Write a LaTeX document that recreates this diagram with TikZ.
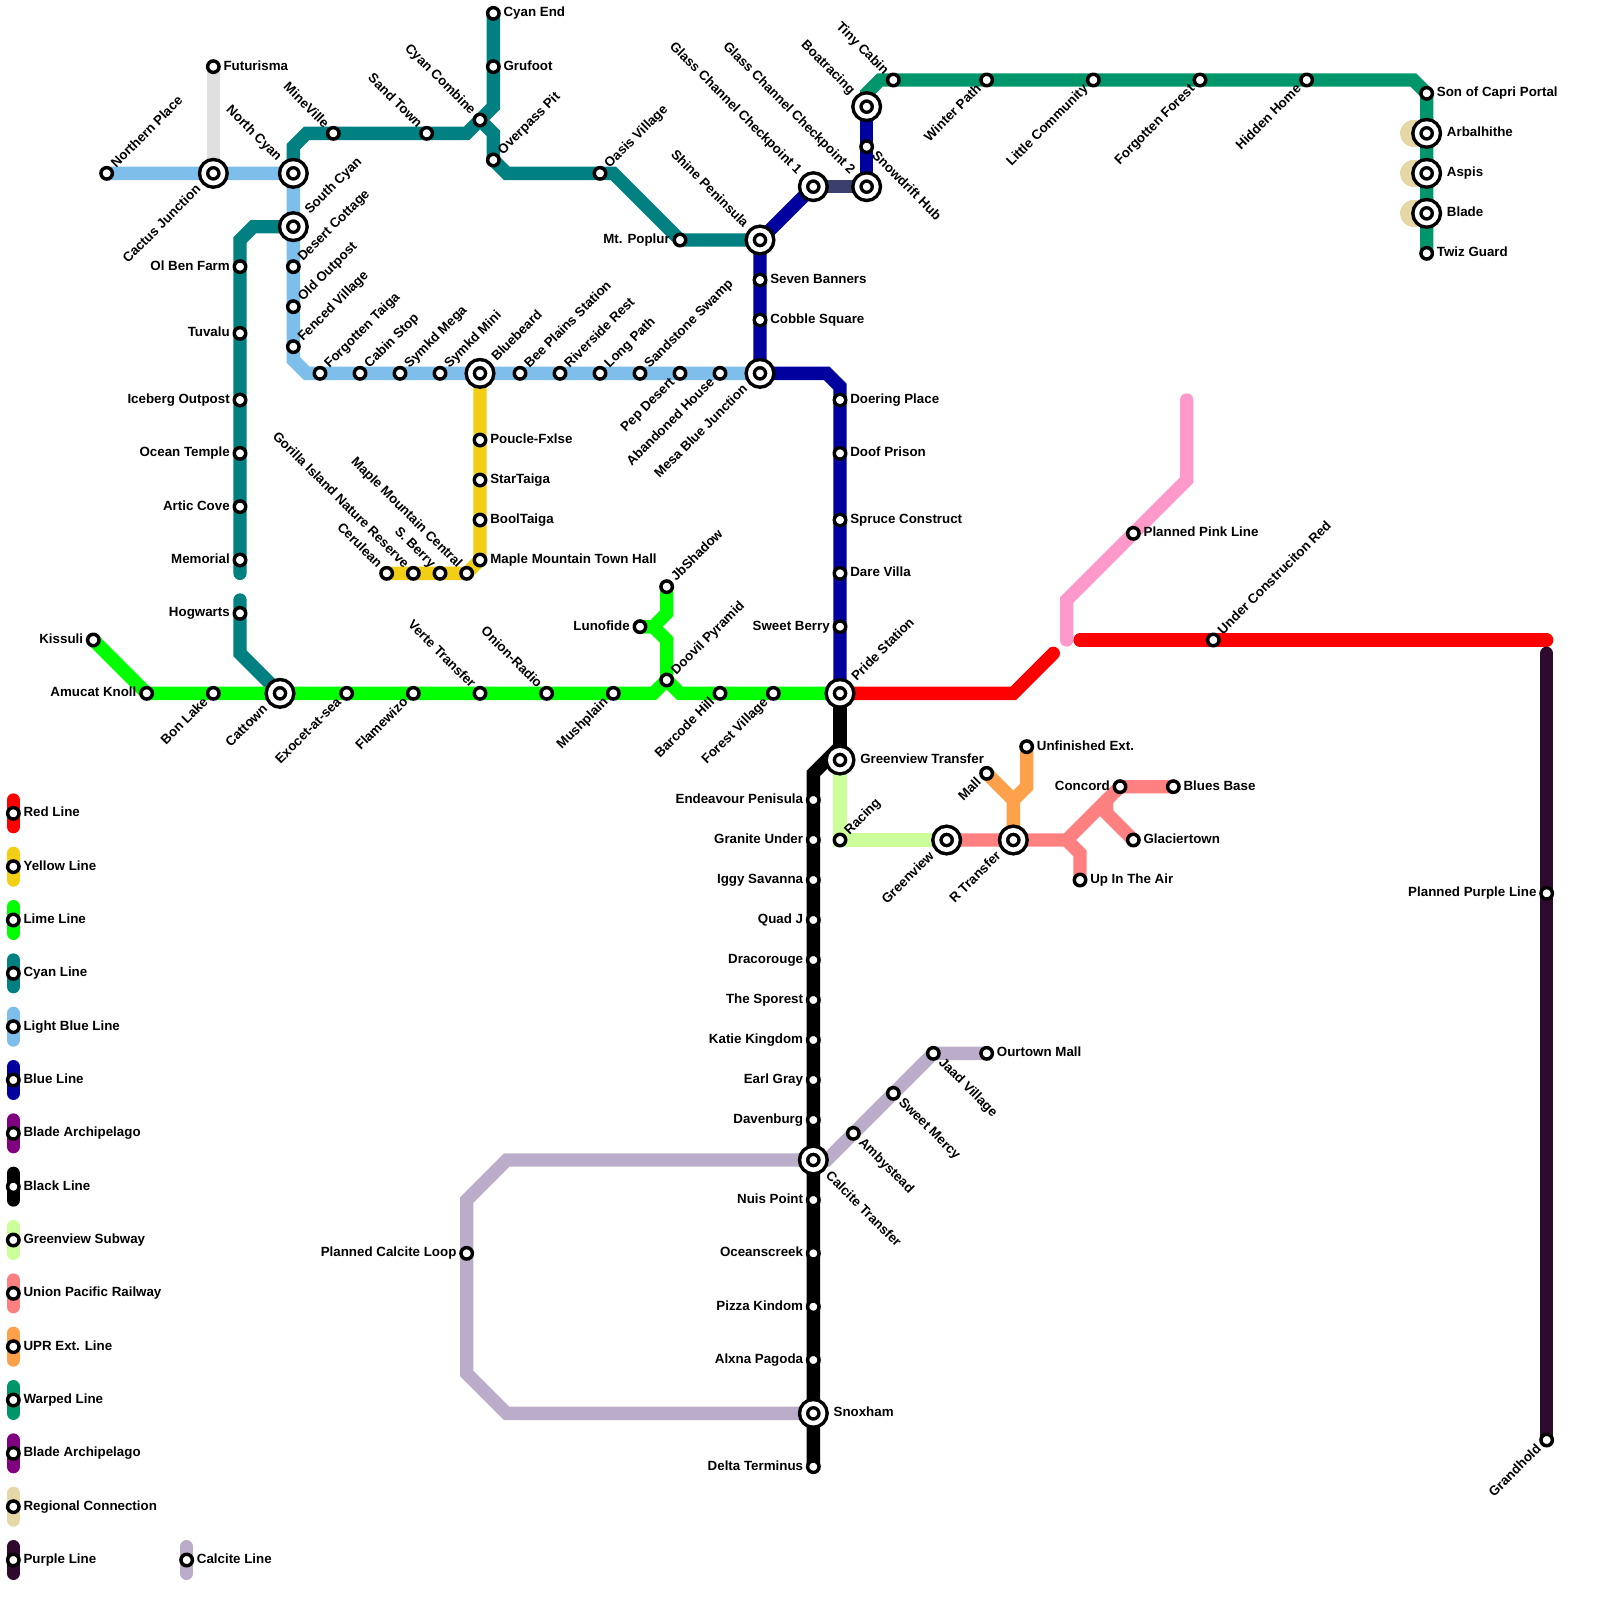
\documentclass[tikz,border=0pt]{standalone}
\usepackage{fontspec}
\setmainfont{Liberation Sans}
\usetikzlibrary{backgrounds}
\definecolor{redline}{HTML}{FF0000}
\definecolor{yellowline}{HTML}{F2CF14}
\definecolor{limeline}{HTML}{00FF00}
\definecolor{cyanline}{HTML}{008080}
\definecolor{lightblueline}{HTML}{7DBFEA}
\definecolor{blueline}{HTML}{00009F}
\definecolor{bladeline}{HTML}{800080}
\definecolor{subwayline}{HTML}{CCFF99}
\definecolor{unionline}{HTML}{FF8080}
\definecolor{extline}{HTML}{FFA04A}
\definecolor{warpedline}{HTML}{00966C}
\definecolor{regionline}{HTML}{E6D8A6}
\definecolor{purpleline}{HTML}{2D0A2E}
\definecolor{calciteline}{HTML}{BBADC9}
\definecolor{glassline}{HTML}{3A3F6E}
\definecolor{futureline}{HTML}{E0E0E0}
\definecolor{pinkline}{HTML}{FF99CC}
\tikzset{
  lbl/.style={font=\bfseries\fontsize{10}{11}\selectfont,inner sep=1pt,text height=7.2pt,text depth=2pt},
  stn/.style={circle,draw=black,fill=white,line width=2.6pt,inner sep=0pt,outer sep=2.2pt,minimum size=8.6pt},
  xfer/.style={circle,draw=black,fill=white,double=white,double distance=3.4pt,line width=2.6pt,inner sep=0pt,outer sep=6.7pt,minimum size=14.6pt},
  rr/.style={label={[lbl,anchor=west]0:#1}},
  ll/.style={label={[lbl,anchor=east]180:#1}},
  tr/.style={label={[lbl,rotate=45,anchor=west]45:#1}},
  tl/.style={label={[lbl,rotate=-45,anchor=east]135:#1}},
  bl/.style={label={[lbl,rotate=45,anchor=east]225:#1}},
  br/.style={label={[lbl,rotate=-45,anchor=west]-45:#1}},
  metro/.style={draw=#1,line width=10pt,line cap=round,line join=miter},
}
\begin{document}
\begin{tikzpicture}[x=10pt,y=-10pt]
\useasboundingbox (0,0) rectangle (120,120);
% light blue
\node[stn,tr=Northern Place] (northern) at (8,13) {};
\node[stn,rr=Futurisma] (futurisma) at (16,5) {};
\node[xfer,bl=Cactus Junction] (cactus) at (16,13) {};
\node[xfer,tl=North Cyan] (ncyan) at (22,13) {};
\node[xfer,tr=South Cyan] (scyan) at (22,17) {};
\node[stn,tr=Desert Cottage] (desert) at (22,20) {};
\node[stn,tr=Old Outpost] (outpost) at (22,23) {};
\node[stn,tr=Fenced Village] (fenced) at (22,26) {};
\node[stn,tr=Forgotten Taiga] (taiga) at (24,28) {};
\node[stn,tr=Cabin Stop] (cabin) at (27,28) {};
\node[stn,tr=Symkd Mega] (smega) at (30,28) {};
\node[stn,tr=Symkd Mini] (smini) at (33,28) {};
\node[xfer,tr=Bluebeard] (bluebeard) at (36,28) {};
\node[stn,tr=Bee Plains Station] (bee) at (39,28) {};
\node[stn,tr=Riverside Rest] (riverside) at (42,28) {};
\node[stn,tr=Long Path] (longpath) at (45,28) {};
\node[stn,tr=Sandstone Swamp] (sandstone) at (48,28) {};
\node[stn,bl=Pep Desert] (pep) at (51,28) {};
\node[stn,bl=Abandoned House] (abandoned) at (54,28) {};
\node[xfer,bl=Mesa Blue Junction] (mesa) at (57,28) {};
% cyan
\node[stn,rr=Cyan End] (cyanend) at (37,1) {};
\node[stn,rr=Grufoot] (grufoot) at (37,5) {};
\node[stn,tl=Cyan Combine] (combine) at (36,9) {};
\node[stn,tl=Sand Town] (sandtown) at (32,10) {};
\node[stn,tl=MineVille] (mineville) at (25,10) {};
\node[stn,tr=Overpass Pit] (overpass) at (37,12) {};
\node[stn,tr=Oasis Village] (oasis) at (45,13) {};
\node[stn,ll=Mt. Poplur] (poplur) at (51,18) {};
\node[stn,ll=Ol Ben Farm] (olben) at (18,20) {};
\node[stn,ll=Tuvalu] (tuvalu) at (18,25) {};
\node[stn,ll=Iceberg Outpost] (iceberg) at (18,30) {};
\node[stn,ll=Ocean Temple] (ocean) at (18,34) {};
\node[stn,ll=Artic Cove] (artic) at (18,38) {};
\node[stn,ll=Memorial] (memorial) at (18,42) {};
\node[stn,ll=Hogwarts] (hogwarts) at (18,46) {};
\coordinate (cyanstop) at (18,43);
\coordinate (cyanstart) at (18,45);
% yellow
\node[stn,rr=Poucle-Fxlse] (poucle) at (36,33) {};
\node[stn,rr=StarTaiga] (startaiga) at (36,36) {};
\node[stn,rr=BoolTaiga] (booltaiga) at (36,39) {};
\node[stn,rr=Maple Mountain Town Hall] (townhall) at (36,42) {};
\node[stn,tl=Maple Mountain Central] (central) at (35,43) {};
\node[stn,tl=S. Berry] (sberry) at (33,43) {};
\node[stn,tl=Gorilla Island Nature Reserve] (gorilla) at (31,43) {};
\node[stn,tl=Cerulean] (cerulean) at (29,43) {};
% lime
\node[stn,ll=Kissuli] (kissuli) at (7,48) {};
\node[stn,ll=Amucat Knoll] (amucat) at (11,52) {};
\node[stn,bl=Bon Lake] (bonlake) at (16,52) {};
\node[xfer,bl=Cattown] (cattown) at (21,52) {};
\node[stn,bl=Exocet-at-sea] (exocet) at (26,52) {};
\node[stn,bl=Flamewizo] (flamewizo) at (31,52) {};
\node[stn,tl=Verte Transfer] (verte) at (36,52) {};
\node[stn,tl=Onion-Radio] (onion) at (41,52) {};
\node[stn,bl=Mushplain] (mushplain) at (46,52) {};
\node[stn,tr=Doovil Pyramid] (doovil) at (50,51) {};
\node[stn,bl=Barcode Hill] (barcode) at (54,52) {};
\node[stn,bl=Forest Village] (forest) at (58,52) {};
\node[stn,tr=JbShadow] (jbshadow) at (50,44) {};
\node[stn,ll=Lunofide] (lunofide) at (48,47) {};
\node[xfer,tr=Pride Station] (pride) at (63,52) {};
% blue
\node[xfer,tl=Shine Peninsula] (shine) at (57,18) {};
\node[stn,rr=Seven Banners] (banners) at (57,21) {};
\node[stn,rr=Cobble Square] (cobble) at (57,24) {};
\node[xfer,tl=Glass Channel Checkpoint 1] (glassa) at (61,14) {};
\node[xfer,tl=Glass Channel Checkpoint 2] (glassb) at (65,14) {};
\node[stn,br=Snowdrift Hub] (snowdrift) at (65,11) {};
\node[xfer,tl=Boatracing] (boatracing) at (65,8) {};
\node[stn,rr=Doering Place] (doering) at (63,30) {};
\node[stn,rr=Doof Prison] (doof) at (63,34) {};
\node[stn,rr=Spruce Construct] (spruce) at (63,39) {};
\node[stn,rr=Dare Villa] (dare) at (63,43) {};
\node[stn,ll=Sweet Berry] (sweetberry) at (63,47) {};
% warped
\node[stn,tl=Tiny Cabin] (tiny) at (67,6) {};
\node[stn,bl=Winter Path] (winter) at (74,6) {};
\node[stn,bl=Little Community] (little) at (82,6) {};
\node[stn,bl=Forgotten Forest] (fforest) at (90,6) {};
\node[stn,bl=Hidden Home] (hidden) at (98,6) {};
\node[stn,rr=Son of Capri Portal] (capri) at (107,7) {};
\node[xfer,rr=Arbalhithe] (arbal) at (107,10) {};
\node[xfer,rr=Aspis] (aspis) at (107,13) {};
\node[xfer,rr=Blade] (blade) at (107,16) {};
\node[stn,rr=Twiz Guard] (twiz) at (107,19) {};
\coordinate (regiona) at (106,10);
\coordinate (regionb) at (106,13);
\coordinate (regionc) at (106,16);
% black
\node[xfer,rr=Greenview Transfer] (gtransfer) at (63,57) {};
\node[stn,ll=Endeavour Penisula] (endeavour) at (61,60) {};
\node[stn,ll=Granite Under] (granite) at (61,63) {};
\node[stn,ll=Iggy Savanna] (iggy) at (61,66) {};
\node[stn,ll=Quad J] (quad) at (61,69) {};
\node[stn,ll=Dracorouge] (draco) at (61,72) {};
\node[stn,ll=The Sporest] (sporest) at (61,75) {};
\node[stn,ll=Katie Kingdom] (katie) at (61,78) {};
\node[stn,ll=Earl Gray] (earl) at (61,81) {};
\node[stn,ll=Davenburg] (davenburg) at (61,84) {};
\node[xfer,br=Calcite Transfer] (calcite) at (61,87) {};
\node[stn,ll=Nuis Point] (nuis) at (61,90) {};
\node[stn,ll=Oceanscreek] (oceans) at (61,94) {};
\node[stn,ll=Pizza Kindom] (pizza) at (61,98) {};
\node[stn,ll=Alxna Pagoda] (alxna) at (61,102) {};
\node[xfer,rr=Snoxham] (snoxham) at (61,106) {};
\node[stn,ll=Delta Terminus] (delta) at (61,110) {};
% greenview, union pacific, ext
\node[stn,tr=Racing] (racing) at (63,63) {};
\node[xfer,bl=Greenview] (greenview) at (71,63) {};
\node[xfer,bl=R Transfer] (rtransfer) at (76,63) {};
\node[stn,bl=Mall] (mall) at (74,58) {};
\node[stn,rr=Unfinished Ext.] (unfinished) at (77,56) {};
\node[stn,ll=Concord] (concord) at (84,59) {};
\node[stn,rr=Blues Base] (blues) at (88,59) {};
\node[stn,rr=Glaciertown] (glacier) at (85,63) {};
\node[stn,rr=Up In The Air] (upinair) at (81,66) {};
% planned and calcite
\node[stn,rr=Planned Pink Line] (pink) at (85,40) {};
\node[stn,tr=Under Construciton Red] (construct) at (91,48) {};
\node[stn,ll=Planned Purple Line] (planpurple) at (116,67) {};
\node[stn,bl=Grandhold] (grandhold) at (116,108) {};
\node[stn,ll=Planned Calcite Loop] (calciteloop) at (35,94) {};
\node[stn,br=Ambystead] (amby) at (64,85) {};
\node[stn,br=Sweet Mercy] (mercy) at (67,82) {};
\node[stn,br=Jaad Village] (jaad) at (70,79) {};
\node[stn,rr=Ourtown Mall] (ourtown) at (74,79) {};
\coordinate (redstop) at (79,49);
\coordinate (redstart) at (81,48);
\coordinate (redend) at (116,48);
\coordinate (purplestart) at (116,49);
\coordinate (pinkstart) at (89,30);
\coordinate (pinkend) at (80,48);
% legend
\node[stn,rr=Red Line] (kred) at (1,61) {};
\node[stn,rr=Yellow Line] (kyellow) at (1,65) {};
\node[stn,rr=Lime Line] (klime) at (1,69) {};
\node[stn,rr=Cyan Line] (kcyan) at (1,73) {};
\node[stn,rr=Light Blue Line] (klight) at (1,77) {};
\node[stn,rr=Blue Line] (kblue) at (1,81) {};
\node[stn,rr=Blade Archipelago] (kblade) at (1,85) {};
\node[stn,rr=Black Line] (kblack) at (1,89) {};
\node[stn,rr=Greenview Subway] (ksubway) at (1,93) {};
\node[stn,rr=Union Pacific Railway] (kunion) at (1,97) {};
\node[stn,rr=UPR Ext. Line] (kext) at (1,101) {};
\node[stn,rr=Warped Line] (kwarped) at (1,105) {};
\node[stn,rr=Blade Archipelago] (kbladeb) at (1,109) {};
\node[stn,rr=Regional Connection] (kregion) at (1,113) {};
\node[stn,rr=Purple Line] (kpurple) at (1,117) {};
\node[stn,rr=Calcite Line] (kcalcite) at (14,117) {};
\begin{scope}[on background layer]
\foreach \kname/\kcol in {kred/redline,kyellow/yellowline,klime/limeline,kcyan/cyanline,klight/lightblueline,kblue/blueline,kblade/bladeline,kblack/black,ksubway/subwayline,kunion/unionline,kext/extline,kwarped/warpedline,kbladeb/bladeline,kregion/regionline,kpurple/purpleline,kcalcite/calciteline}
  \draw[metro=\kcol] ([yshift=10pt]\kname.center) -- ([yshift=-10pt]\kname.center);
\foreach \rname in {regiona,regionb,regionc}
  \draw[line width=20pt,draw=regionline,line cap=round] (\rname) -- ++(1,0);
\draw[metro=futureline] (futurisma.center) -- (cactus.center);
\draw[metro=lightblueline] (northern.center) -- (ncyan.center) -- (22,27) -- (23,28) -- (mesa.center);
\draw[metro=cyanline] (cyanend.center) -- (37,8) -- (35,10) -- (23,10) -- (22,11) -- (ncyan.center);
\draw[metro=cyanline] (combine.center) -- (37,10) -- (overpass.center) -- (38,13) -- (46,13) -- (poplur.center) -- (shine.center);
\draw[metro=cyanline] (scyan.center) -- (19,17) -- (18,18) -- (cyanstop);
\draw[metro=cyanline] (cyanstart) -- (18,49) -- (cattown.center);
\draw[metro=yellowline] (bluebeard.center) -- (townhall.center) -- (central.center) -- (cerulean.center);
\draw[metro=limeline] (kissuli.center) -- (amucat.center) -- (49,52) -- (doovil.center) -- (51,52) -- (pride.center);
\draw[metro=limeline] (jbshadow.center) -- (50,46) -- (49,47) -- (lunofide.center);
\draw[metro=limeline] (lunofide.center) -- (49,47) -- (50,48) -- (doovil.center);
\draw[metro=blueline] (mesa.center) -- (shine.center) -- (glassa.center);
\draw[metro=blueline] (mesa.center) -- (62,28) -- (63,29) -- (pride.center);
\draw[metro=blueline] (boatracing.center) -- (glassb.center);
\draw[metro=glassline] (glassa.center) -- (glassb.center);
\draw[metro=warpedline] (boatracing.center) -- (65,7) -- (66,6) -- (106,6) -- (capri.center) -- (twiz.center);
\draw[metro=black] (pride.center) -- (63,56) -- (61,58) -- (delta.center);
\draw[metro=black] (pride.center) -- (gtransfer.center);
\draw[metro=subwayline] (gtransfer.center) -- (racing.center) -- (greenview.center);
\draw[metro=unionline] (greenview.center) -- (80,63) -- (83,60) -- (concord.center) -- (blues.center);
\draw[metro=unionline] (80,63) -- (81,64) -- (upinair.center);
\draw[metro=unionline] (83,60) -- (83,61) -- (glacier.center);
\draw[metro=extline] (rtransfer.center) -- (76,60) -- (mall.center);
\draw[metro=extline] (76,60) -- (77,59) -- (unfinished.center);
\draw[metro=redline] (pride.center) -- (76,52) -- (redstop);
\draw[metro=redline] (redstart) -- (redend);
\draw[metro=purpleline] (purplestart) -- (grandhold.center);
\draw[metro=pinkline] (pinkstart) -- (89,36) -- (80,45) -- (pinkend);
\draw[metro=calciteline] (calcite.center) -- (38,87) -- (35,90) -- (35,103) -- (38,106) -- (snoxham.center);
\draw[metro=calciteline] (calcite.center) -- (62,87) -- (jaad.center) -- (ourtown.center);
\end{scope}
\end{tikzpicture}
\end{document}
